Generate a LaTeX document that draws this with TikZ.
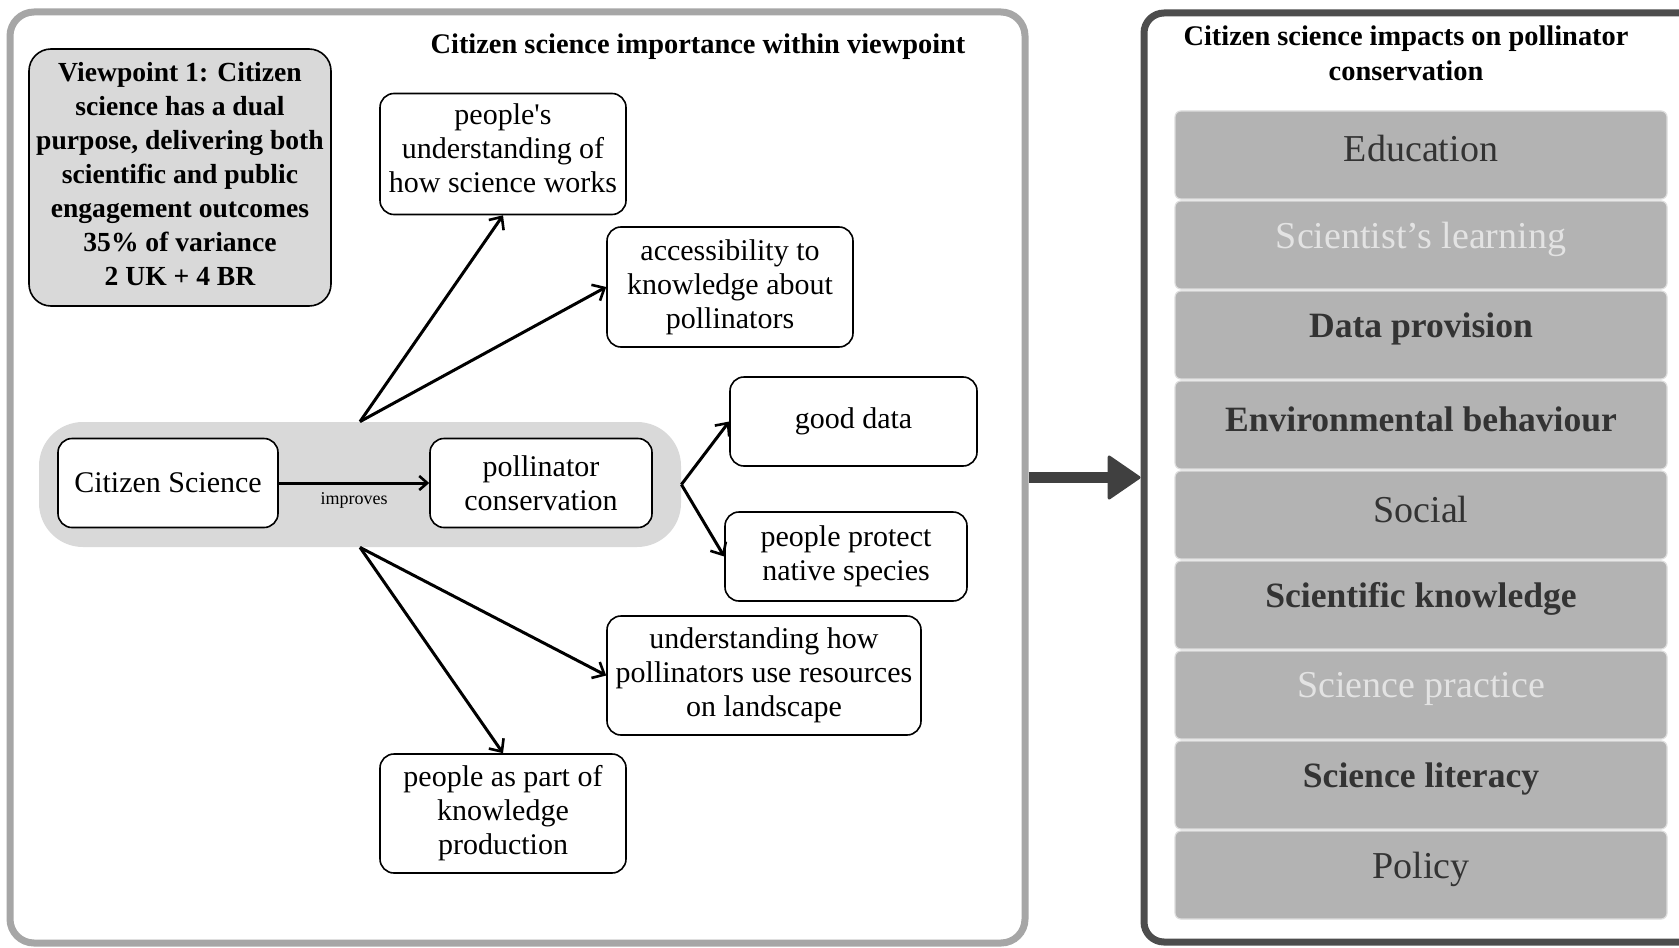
\documentclass[tikz,border=0pt]{standalone}
\usepackage{fontspec}
\setmainfont{Liberation Serif}
\usetikzlibrary{arrows.meta}
\definecolor{panelgrey}{HTML}{A6A6A6}
\definecolor{paneldark}{HTML}{4D4D4D}
\definecolor{bandgrey}{HTML}{D9D9D9}
\definecolor{bargrey}{HTML}{B3B3B3}
\definecolor{barline}{HTML}{DDDDDD}
\definecolor{bartext}{HTML}{333333}
\definecolor{barlight}{HTML}{E3E3E3}
\definecolor{arrowdark}{HTML}{404040}
\begin{document}
\begin{tikzpicture}[x=0.5pt,y=-0.5pt,
  box/.style={draw=black, line width=0.8pt, fill=white, rounded corners=7pt, align=center, inner sep=0pt, font=\fontsize{15}{17}\selectfont},
  boxtxt/.style={align=center, inner sep=0pt, font=\fontsize{15}{17}\selectfont},
  fan/.style={line width=1.5pt, -{Straight Barb[length=5pt,width=9pt,line width=1.3pt]}},
  bar/.style={fill=bargrey, draw=barline, line width=0.6pt, rounded corners=3pt, minimum width=246pt, minimum height=44pt, inner sep=0pt},
  bartxt/.style={text=bartext, font=\fontsize{19}{22}\selectfont},
  bartxtb/.style={text=bartext, font=\bfseries\fontsize{17.8}{22}\selectfont},
  bartxtl/.style={text=barlight, font=\fontsize{19}{22}\selectfont},
  ttl/.style={font=\bfseries\fontsize{14.2}{17.5}\selectfont, align=center, inner sep=0pt}]
\useasboundingbox (0,0) rectangle (1679,947);
\fill[white] (0,0) rectangle (1679,947);
% panels
\node[draw=panelgrey, line width=3.5pt, rounded corners=12pt, minimum width=507.5pt, minimum height=465.5pt, inner sep=0pt] (leftpanel) at (517.5,477.5) {};
\node[draw=paneldark, line width=3.5pt, rounded corners=10pt, minimum width=288pt, minimum height=464.5pt, inner sep=0pt] (rightpanel) at (1432,477.5) {};
\draw[line width=5.5pt, arrowdark, -{Triangle[length=17pt,width=23pt,round,line width=1.5pt]}] (leftpanel.east) -- (rightpanel.west);
% titles
\node[ttl] (lefttitle) at (698,47) {Citizen science importance within viewpoint};
\node[ttl] (righttitle) at (1406,53) {Citizen science impacts on pollinator\\conservation};
% viewpoint box
\node[draw=black, line width=0.8pt, fill=bandgrey, rounded corners=11pt, minimum width=151pt, minimum height=128.5pt, inner sep=0pt] (vp) at (180,177.5) {};
\node[align=center, inner sep=0pt, font=\bfseries\fontsize{13.8}{17}\selectfont] (vptext) at (180,174) {Viewpoint 1: Citizen\\science has a dual\\purpose, delivering both\\scientific and public\\engagement outcomes\\35\% of variance\\2 UK + 4 BR};
% band
\node[fill=bandgrey, rounded corners=22pt, minimum width=321pt, minimum height=62.5pt, inner sep=0pt] (band) at (360,484.5) {};
\node[box, minimum width=110pt, minimum height=44.5pt] (cs) at (168,483) {Citizen Science};
\node[box, minimum width=111pt, minimum height=44.5pt] (pc) at (541,483) {pollinator\\conservation};
\draw[line width=1.5pt, -{Straight Barb[length=4pt,width=7pt,line width=1.3pt]}] (cs) -- (pc) node[midway, yshift=-8.5pt, font=\fontsize{9}{10}\selectfont] {improves};
% outcome boxes
\node[box, minimum width=123pt, minimum height=60.5pt] (b1) at (503,154) {};
\node[boxtxt] (b1text) at (503,148) {people\textquotesingle s\\understanding of\\how science works};
\node[box, minimum width=123pt, minimum height=60pt] (b2) at (730,287) {accessibility to\\knowledge about\\pollinators};
\node[box, minimum width=123.5pt, minimum height=44.5pt] (b3) at (853.5,421.5) {good data};
\node[box, minimum width=121pt, minimum height=44.5pt] (b4) at (846,556.5) {people protect\\native species};
\node[box, minimum width=157pt, minimum height=59.5pt] (b5) at (764,675.5) {understanding how\\pollinators use resources\\on landscape};
\node[box, minimum width=123pt, minimum height=59.5pt] (b6) at (503,813.5) {people as part of\\knowledge\\production};
\draw[fan] (band.north) -- (b1.south);
\draw[fan] (band.north) -- (b2.west);
\draw[fan] (band.east) -- (b3.west);
\draw[fan] (band.east) -- (b4.west);
\draw[fan] (band.south) -- (b5.west);
\draw[fan] (band.south) -- (b6.north);
% bars
\node[bar] (r1) at (1421,155) {};
\node[bar] (r2) at (1421,245) {};
\node[bar] (r3) at (1421,335) {};
\node[bar] (r4) at (1421,425) {};
\node[bar] (r5) at (1421,515) {};
\node[bar] (r6) at (1421,605) {};
\node[bar] (r7) at (1421,695) {};
\node[bar] (r8) at (1421,785) {};
\node[bar] (r9) at (1421,875) {};
\node[bartxt, yshift=3pt] (t1) at (r1) {Education};
\node[bartxtl, yshift=3pt] (t2) at (r2) {Scientist’s learning};
\node[bartxtb, yshift=3pt] (t3) at (r3) {Data provision};
\node[bartxtb, yshift=3pt] (t4) at (r4) {Environmental behaviour};
\node[bartxt, yshift=3pt] (t5) at (r5) {Social};
\node[bartxtb, yshift=3pt] (t6) at (r6) {Scientific knowledge};
\node[bartxtl, yshift=3pt] (t7) at (r7) {Science practice};
\node[bartxtb, yshift=3pt] (t8) at (r8) {Science literacy};
\node[bartxt, yshift=3pt] (t9) at (r9) {Policy};
\end{tikzpicture}
\end{document}
